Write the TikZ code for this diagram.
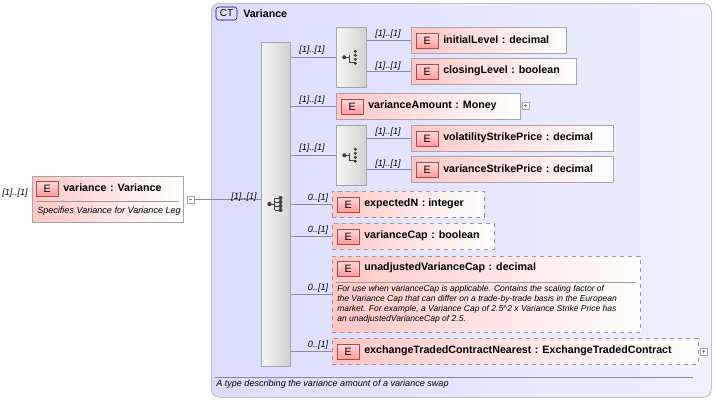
\documentclass[tikz,border=0pt]{standalone}
\usepackage{fontspec}
\setmainfont{Liberation Sans}
\begin{document}
\begin{tikzpicture}[x=0.75pt,y=-0.75pt,
  el/.style={draw=black!35,left color=red!22,right color=white,shading angle=90,rectangle,anchor=north west,inner sep=0pt},
  opt/.style={el,dashed,draw=black!40},
  badge/.style={draw=red!50!black!70,top color=red!15,bottom color=red!40,minimum width=22pt*0.75,minimum height=15pt*0.75,inner sep=0pt,font=\fontsize{8}{8}\selectfont,anchor=west},
  nm/.style={font=\bfseries\fontsize{8}{9}\selectfont,anchor=west,inner sep=0pt},
  card/.style={font=\itshape\fontsize{6.8}{7}\selectfont,inner sep=0pt},
  desc/.style={font=\itshape\fontsize{6.4}{7.5}\selectfont,inner sep=0pt,anchor=north west,align=left},
  grp/.style={draw=black!35,left color=black!4,right color=black!18,anchor=north west,inner sep=0pt},
  ln/.style={draw=black!45},
  plus/.style={draw=black!35,fill=white,minimum size=5.25pt,inner sep=0pt}]
\useasboundingbox (0,0) rectangle (715,400);
% CT box
\node[draw=black!35,rounded corners=6pt,left color=blue!14,right color=blue!6,shading angle=90,anchor=north west,minimum width=500*0.75pt,minimum height=394*0.75pt,inner sep=0pt] (ct) at (211,3) {};
\node[draw=blue!40!black,fill=blue!12,rounded corners=2pt,minimum width=21*0.75pt,minimum height=13*0.75pt,inner sep=0pt,font=\fontsize{7.5}{8}\selectfont] (ctb) at (226.5,13.5) {CT};
\node[nm] (ctn) at (243,13.5) {Variance};
\draw[black!45] (215,377) -- (693,377);
\node[card,anchor=west] (ctd) at (216,384.5) {A type describing the variance amount of a variance swap};
% left element
\node[el,minimum width=151*0.75pt,minimum height=46*0.75pt] (v) at (32,176) {};
\draw[black!40] (36,201) -- (179,201);
\node[badge] (vb) at (36,189) {E};
\node[nm] (vn) at (63,188) {variance\,\,: Variance};
\node[card,anchor=west] (vd) at (37,211) {Specifies Variance for Variance Leg};
\node[card] (vc) at (15,193) {[1]..[1]};
\node[plus] (vm) at (190.5,199.5) {};
\draw[black!50] (188.8,199.5) -- (192.2,199.5);
% sequence
\node[grp,minimum width=29*0.75pt,minimum height=324*0.75pt] (seq) at (261,42) {};
\draw[ln] (vm.east) -- (seq.west |- vm.east);
\node[card] at (244,197.5) {[1]..[1]};
\begin{scope}[shift={(275.5,204)}]
\fill[black!75] (-6,0) circle (1.6pt); \draw[black!75,line width=0.7pt] (-6,0) -- (-1,0) (-1,-6) -- (-1,6) (-1,-6) -- (5,-6) (-1,-2) -- (5,-2) (-1,2)--(5,2) (-1,6)--(5,6);
\foreach \yy in {-6,-2,2,6} \fill[black!75] (5,\yy) circle (1.5pt);
\end{scope}
% choices
\node[grp,minimum width=30*0.75pt,minimum height=60*0.75pt] (c1) at (336,27) {};
\node[grp,minimum width=30*0.75pt,minimum height=60*0.75pt] (c2) at (336,125) {};
\foreach \c in {c1,c2}{
\begin{scope}[shift={(\c.center)}]
\fill[black!75] (-7,0) circle (1.5pt); \draw[black!75,line width=0.7pt] (-7,0) -- (-2,0) (-2,-2)--(-2,5) (-2,5)--(4,5);
\foreach \yy in {-6,-2,2,6} \fill[black!75] (4,\yy) circle (1.3pt);
\end{scope}}
% elements
\newcommand{\elem}[6]{% name, style, x, y, width, text
\node[#2,minimum width=#5*0.75pt,minimum height=26*0.75pt] (#1) at (#3,#4) {};
\node[badge] (#1b) at (#3+5,#4+14) {E};
\node[nm] (#1n) at (#3+32,#4+13) {#6};}
\elem{il}{el}{411}{27}{155}{initialLevel\,\,: decimal}
\elem{cl}{el}{411}{58}{165}{closingLevel\,\,: boolean}
\elem{va}{el}{336}{93}{184}{varianceAmount\,\,: Money}
\elem{vs}{el}{411}{125}{202}{volatilityStrikePrice\,\,: decimal}
\elem{vp}{el}{411}{156}{202}{varianceStrikePrice\,\,: decimal}
\elem{en}{opt}{332}{191}{152}{expectedN\,\,: integer}
\elem{vc2}{opt}{332}{223}{162}{varianceCap\,\,: boolean}
\elem{et}{opt}{332}{338}{366}{exchangeTradedContractNearest\,\,: ExchangeTradedContract}
\node[opt,minimum width=308*0.75pt,minimum height=76*0.75pt] (uv) at (332,256) {};
\node[badge] (uvb) at (337,269) {E};
\node[nm] (uvn) at (364,268) {unadjustedVarianceCap\,\,: decimal};
\draw[black!40] (336,282) -- (636,282);
\node[desc] (uvd) at (337,285) {For use when varianceCap is applicable. Contains the scaling factor of\\the Variance Cap that can differ on a trade-by-trade basis in the European\\market. For example, a Variance Cap of 2.5\^{}2 x Variance Strike Price has\\an unadjustedVarianceCap of 2.5.};
\node[plus] (vap) at (525.5,105.5) {};
\draw[black!50] (523.8,105.5)--(527.2,105.5) (525.5,103.8)--(525.5,107.2);
\node[plus] (etp) at (703.5,351.5) {};
\draw[black!50] (701.8,351.5)--(705.2,351.5) (703.5,349.8)--(703.5,353.2);
% connectors from sequence
\draw[ln] (seq.east |- c1.west) -- (c1.west);
\draw[ln] (seq.east |- va.west) -- (va.west);
\draw[ln] (seq.east |- c2.west) -- (c2.west);
\draw[ln] (seq.east |- en.west) -- (en.west);
\draw[ln] (seq.east |- vc2.west) -- (vc2.west);
\draw[ln] (seq.east |- 0,294) -- (uv.west |- 0,294);
\draw[ln] (seq.east |- et.west) -- (et.west);
\draw[ln] (c1.east |- il.west) -- (il.west);
\draw[ln] (c1.east |- cl.west) -- (cl.west);
\draw[ln] (c2.east |- vs.west) -- (vs.west);
\draw[ln] (c2.east |- vp.west) -- (vp.west);
% cardinalities
\foreach \xx/\yy/\t in {312/50/{[1]..[1]},312/100/{[1]..[1]},312/148/{[1]..[1]},388/34/{[1]..[1]},388/66/{[1]..[1]},388/132/{[1]..[1]},388/164/{[1]..[1]},318/198/{0..[1]},318/230/{0..[1]},318/288/{0..[1]},318/345/{0..[1]}}
\node[card] at (\xx,\yy) {\t};
\end{tikzpicture}
\end{document}
